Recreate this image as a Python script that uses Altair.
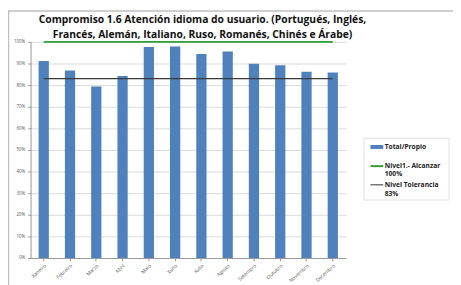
import altair as alt
import pandas as pd

months = ["Xaneiro", "Febreiro", "Marzo", "Abril", "Maio", "Xuño",
          "Xullo", "Agosto", "Setembro", "Outubro", "Novembro", "Decembro"]
values = [91.2, 86.8, 79.4, 84.2, 97.6, 97.9, 94.4, 95.5, 89.9, 89.2, 86.2, 85.8]
target = 100
tolerance = 83
ytick_values = [0, 0.1, 0.2, 0.3, 0.4, 0.5, 0.6, 0.7, 0.8, 0.9, 1.0]

title_lines = ["Compromiso 1.6 Atención idioma do usuario. (Portugués, Inglés,",
               "Francés, Alemán, Italiano, Ruso, Romanés, Chinés e Árabe)"]

df = pd.DataFrame({
    "mes": months,
    "valor": [v / 100 for v in values],
    "meta": [target / 100] * len(months),
    "tol": [tolerance / 100] * len(months),
})

FONT = "Open Sans"

xscale = alt.Scale(paddingInner=0.61, paddingOuter=0.305)
xaxis = alt.Axis(labelAngle=-42, labelFontSize=5, labelColor="#555",
                 labelFont=FONT, domainColor="#999", tickColor="#999",
                 tickSize=3, labelPadding=2, labelOverlap=False)
yscale = alt.Scale(domain=[0, 1])
yaxis = alt.Axis(format="%", values=ytick_values, tickCount=11, labelFontSize=4.5,
                 labelColor="#555", labelFont=FONT, domainColor="#999", tickColor="#999",
                 tickSize=3, gridColor="#d9d9d9", labelPadding=3, labelOverlap=False)

base = alt.Chart(df)

def X():
    return alt.X("mes:N", sort=months, title=None, scale=xscale, axis=xaxis)

def Y(field):
    return alt.Y(field, scale=yscale, axis=yaxis, title=None)

bars = base.mark_bar(color="#4F81BD").encode(x=X(), y=Y("valor:Q"))
meta_line = base.mark_line(color="#2E9E35", strokeWidth=2).encode(x=X(), y=Y("meta:Q"))
tol_line = base.mark_line(color="#3a3a3a", strokeWidth=1.5).encode(x=X(), y=Y("tol:Q"))

one = pd.DataFrame({"a": [0]})

# outer frame (only left and top edges visible in the reference)
frame = alt.Chart(one).mark_rect(
    fill=None, stroke="#c0c0c0", strokeWidth=1.5).encode(
    x=alt.value(-22.5), x2=alt.value(480), y=alt.value(-31.5), y2=alt.value(270))

# title as text
title_marks = [
    alt.Chart(pd.DataFrame({"t": [s]})).mark_text(
        align="center", baseline="middle", fontSize=10.5, fontWeight="bold",
        font=FONT, color="#111").encode(text="t:N", x=alt.value(175), y=alt.value(yy))
    for s, yy in zip(title_lines, [-22, -7])
]

# legend (manual)
leg_box = alt.Chart(one).mark_rect(
    fill="white", stroke="#e0e0e0", strokeWidth=1).encode(
    x=alt.value(339.5), x2=alt.value(426), y=alt.value(98), y2=alt.value(161))
leg_sw = alt.Chart(one).mark_rect(color="#4F81BD").encode(
    x=alt.value(346), x2=alt.value(359), y=alt.value(105), y2=alt.value(109))
leg_g = alt.Chart(one).mark_rule(color="#2E9E35", strokeWidth=2).encode(
    x=alt.value(346), x2=alt.value(359), y=alt.value(126.5))
leg_k = alt.Chart(one).mark_rule(color="#555555", strokeWidth=1.2).encode(
    x=alt.value(346), x2=alt.value(359), y=alt.value(145.5))

def txt(s, y):
    return alt.Chart(pd.DataFrame({"t": [s]})).mark_text(
        align="left", baseline="middle", fontSize=6.8, fontWeight="bold",
        font=FONT, color="#222").encode(
        text="t:N", x=alt.value(360.5), y=alt.value(y))

legend = [leg_box, leg_sw, leg_g, leg_k,
          txt("Total/Propio", 107), txt("Nivel1.- Alcanzar", 126.5), txt("100%", 135),
          txt("Nivel Tolerancia", 145.5), txt("83%", 154.5)]

chart = alt.layer(frame, bars, meta_line, tol_line, *title_marks, *legend).properties(
    width=321, height=220,
    padding={"left": 23, "top": 32, "right": 109, "bottom": 25},
    autosize=alt.AutoSizeParams(type="none"),
).configure_view(stroke=None)

chart.save("out.html", embed_options={"renderer": "svg", "actions": False})
